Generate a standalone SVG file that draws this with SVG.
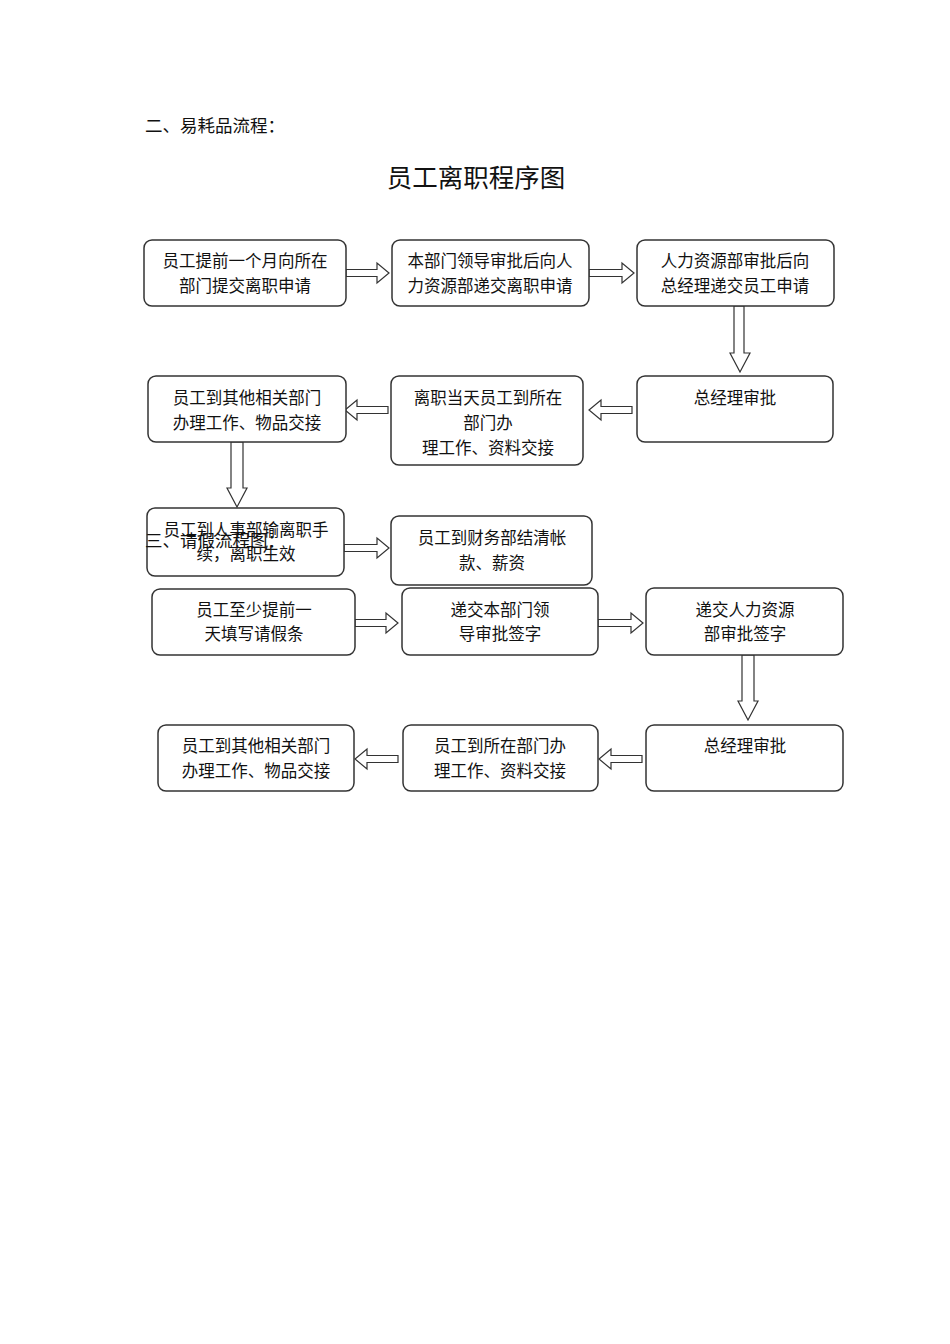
<svg xmlns="http://www.w3.org/2000/svg" width="950" height="1344" viewBox="0 0 950 1344">
<style>
.box{fill:#fff;stroke:#333;stroke-width:1.5}
.arr{fill:#fff;stroke:#333;stroke-width:1.2;stroke-linejoin:miter}
text{font-family:"Noto Sans CJK SC","Liberation Serif",serif;font-size:16.5px;fill:#111}
.c{text-anchor:middle}
.h{font-size:17.5px}
</style>
<rect width="950" height="1344" fill="#fff"/>
<text class="h" x="145" y="132">二、易耗品流程：</text>
<text class="c" x="476" y="187" style="font-size:25.5px">员工离职程序图</text>

<g id="connectors">
<path class="arr" d="M346 269.5H377V263L389 273L377 283V276.5H346Z"/>
<path class="arr" d="M589 269.5H622V263L634 273L622 283V276.5H589Z"/>
<path class="arr" d="M734 306V353H730L740 372L750 353H744V306Z"/>
<path class="arr" d="M632 406.5H601V400L589 410L601 420V413.5H632Z"/>
<path class="arr" d="M388 406.5H357V400L345 410L357 420V413.5H388Z"/>
<path class="arr" d="M231 442V488H227L237 507L247 488H243V442Z"/>
<path class="arr" d="M344 544.5H377V538L389 548L377 558V551.5H344Z"/>
<path class="arr" d="M355 619.5H386V613L398 623L386 633V626.5H355Z"/>
<path class="arr" d="M598 619.5H631V613L643 623L631 633V626.5H598Z"/>
<path class="arr" d="M742 655V701H738L748 720L758 701H754V655Z"/>
<path class="arr" d="M642 755.5H611V749L599 759L611 769V762.5H642Z"/>
<path class="arr" d="M398 755.5H367V749L355 759L367 769V762.5H398Z"/>
</g>

<g id="n1"><rect class="box" x="144" y="240" width="202" height="66" rx="8"/>
<text class="c" x="245" y="267">员工提前一个月向所在</text><text class="c" x="245" y="292">部门提交离职申请</text></g>
<g id="n2"><rect class="box" x="392" y="240" width="197" height="66" rx="8"/>
<text class="c" x="490" y="267">本部门领导审批后向人</text><text class="c" x="490" y="292">力资源部递交离职申请</text></g>
<g id="n3"><rect class="box" x="637" y="240" width="197" height="66" rx="8"/>
<text class="c" x="735" y="267">人力资源部审批后向</text><text class="c" x="735" y="292">总经理递交员工申请</text></g>
<g id="n4"><rect class="box" x="637" y="376" width="196" height="66" rx="8"/>
<text class="c" x="735" y="404">总经理审批</text></g>
<g id="n5"><rect class="box" x="391" y="376" width="192" height="89" rx="8"/>
<text class="c" x="488" y="404">离职当天员工到所在</text><text class="c" x="488" y="429">部门办</text><text class="c" x="488" y="454">理工作、资料交接</text></g>
<g id="n6"><rect class="box" x="148" y="376" width="198" height="66" rx="8"/>
<text class="c" x="247" y="404">员工到其他相关部门</text><text class="c" x="247" y="429">办理工作、物品交接</text></g>
<g id="n7"><rect class="box" x="147" y="508" width="197" height="68" rx="8"/>
<text class="c" x="246" y="536">员工到人事部输离职手</text><text class="c" x="246" y="560">续，离职生效</text></g>
<g id="n8"><rect class="box" x="391" y="516" width="201" height="69" rx="8"/>
<text class="c" x="492" y="544">员工到财务部结清帐</text><text class="c" x="492" y="569">款、薪资</text></g>
<text class="h" x="145" y="547">三、请假流程图：</text>
<g id="n9"><rect class="box" x="152" y="589" width="203" height="66" rx="8"/>
<text class="c" x="254" y="616">员工至少提前一</text><text class="c" x="254" y="640">天填写请假条</text></g>
<g id="n10"><rect class="box" x="402" y="588" width="196" height="67" rx="8"/>
<text class="c" x="500" y="616">递交本部门领</text><text class="c" x="500" y="640">导审批签字</text></g>
<g id="n11"><rect class="box" x="646" y="588" width="197" height="67" rx="8"/>
<text class="c" x="745" y="616">递交人力资源</text><text class="c" x="745" y="640">部审批签字</text></g>
<g id="n12"><rect class="box" x="158" y="725" width="196" height="66" rx="8"/>
<text class="c" x="256" y="752">员工到其他相关部门</text><text class="c" x="256" y="777">办理工作、物品交接</text></g>
<g id="n13"><rect class="box" x="403" y="725" width="195" height="66" rx="8"/>
<text class="c" x="500" y="752">员工到所在部门办</text><text class="c" x="500" y="777">理工作、资料交接</text></g>
<g id="n14"><rect class="box" x="646" y="725" width="197" height="66" rx="8"/>
<text class="c" x="745" y="752">总经理审批</text></g>
</svg>
